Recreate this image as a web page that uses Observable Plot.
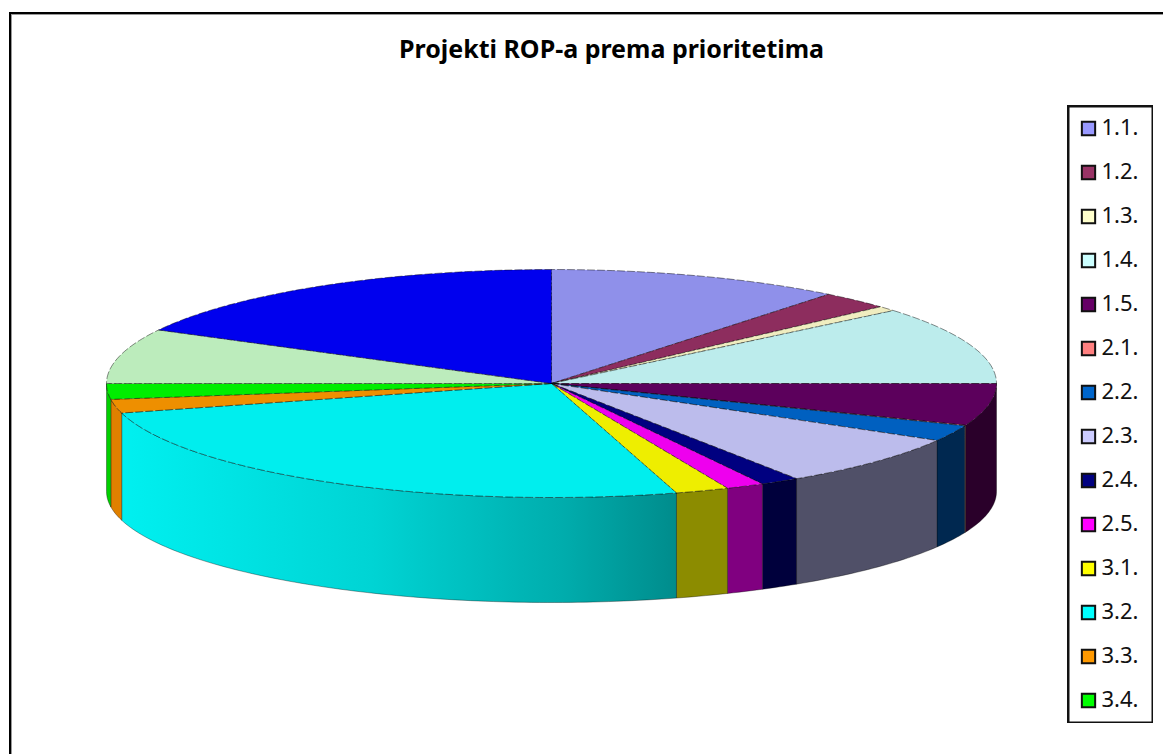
<!DOCTYPE html>
<html><head><meta charset="utf-8">
<script src="https://cdn.jsdelivr.net/npm/d3@7"></script>
<script src="https://cdn.jsdelivr.net/npm/@observablehq/plot@0.6"></script>
<style>
html,body{margin:0;padding:0;background:#fff;width:1163px;height:754px;overflow:hidden}
#root{position:relative;width:1163px;height:754px}
#border{position:absolute;left:9px;top:12px;right:0;bottom:0;border-left:2px solid #000;border-top:2px solid #000;box-shadow:inset 1px 1px 0 #999}
#pie,#legend{position:absolute}
#pie{left:0;top:0}
#legend{left:1067px;top:105px}
svg{display:block;background:none !important}
</style></head><body><div id="root"><div id="border"></div><div id="pie"></div><div id="legend"></div></div>
<script>
const title = "Projekti ROP-a prema prioritetima";
const legendLabels = ["1.1.","1.2.","1.3.","1.4.","1.5.","2.1.","2.2.","2.3.","2.4.","2.5.","3.1.","3.2.","3.3.","3.4."];
const legendColors = ["#9999ff","#993366","#ffffcc","#ccffff","#660066","#ff8080","#0066cc","#ccccff","#000080","#ff00ff","#ffff00","#00ffff","#ff9900","#00ff00"];
// Slices clockwise from 12 o'clock; the last two have no legend entry in the reference.
const shares = [10.7,2.55,0.7,11.05,5.97,0.08,2.28,7.39,1.42,1.39,1.94,25.36,1.95,2.22,7.78,17.22];
const topColors = ["#8f90ea","#8d2d5e","#f0edc0","#bcecec","#5c005c","#ee7878","#0060c0","#bcbcec","#000080","#ee00ee","#eeee00","#00eeee","#ee8f00","#00ee00","#bcecbc","#0000ee"];
const wallColors = ["#4a4a80","#4a1a33","#808066","#668080","#2a002a","#7a3f3f","#002850","#505068","#00003c","#800080","#8c8c00","url(#wall32)","#e08000","#00d000","#668066","#000080"];

const total = d3.sum(shares);
const ends = d3.cumsum(shares).map(v => v / total * 2 * Math.PI);
const slices = shares.map((v, i) => ({a0: i ? ends[i - 1] : 0, a1: ends[i], top: topColors[i], wall: wallColors[i]}));

const DROP = 108 / 114, RY_BOTTOM = 111 / 114;
function arc(a0, a1) {
  const n = Math.max(2, Math.ceil((a1 - a0) / (Math.PI / 180)));
  return d3.range(n + 1).map(k => a0 + (a1 - a0) * k / n);
}
const onTop = a => ({x: Math.sin(a), y: Math.cos(a)});
const onBottom = a => ({x: Math.sin(a), y: -DROP + RY_BOTTOM * Math.cos(a)});
const topPath = s => [{x: 0, y: 0}, ...arc(s.a0, s.a1).map(onTop), {x: 0, y: 0}];
function wallPath(s) {
  const a0 = Math.max(s.a0, Math.PI / 2), a1 = Math.min(s.a1, 1.5 * Math.PI);
  if (a1 <= a0) return null;
  const up = arc(a0, a1).map(onTop), down = arc(a0, a1).reverse().map(onBottom);
  return [...up, ...down, up[0]];
}
const gradient = () => {
  const d = d3.create("svg:defs");
  const g = d.append("linearGradient").attr("id", "wall32");
  [[0, "#00f0f0"], [0.45, "#00d4d4"], [0.8, "#00acac"], [1, "#008c8c"]].forEach(([o, c]) =>
    g.append("stop").attr("offset", o).attr("stop-color", c));
  return d.node();
};
const walls = slices.map(s => [s, wallPath(s)]).filter(d => d[1]).map(([s, p]) =>
  Plot.line(p, {x: "x", y: "y", fill: s.wall, stroke: "#000", strokeOpacity: 0.35, strokeWidth: 1}));
const tops = slices.map(s =>
  Plot.line(topPath(s), {x: "x", y: "y", fill: s.top, stroke: "#000", strokeOpacity: 0.45, strokeWidth: 1, strokeDasharray: "7 3"}));

document.getElementById("pie").append(Plot.plot({
  width: 1163, height: 754, margin: 0,
  x: {domain: [-1, 1], range: [106, 996], axis: null},
  y: {domain: [1, -1], range: [269, 497], axis: null},
  marks: [
    gradient,
    ...walls,
    ...tops,
    Plot.text([title], {frameAnchor: "top", text: d => d, dy: 40, dx: 29.5, fontSize: 25, fontWeight: "bold",
      fontFamily: "'Noto Sans'", fill: "#000"})
  ]
}));

const rows = legendLabels.map((label, i) => ({label, color: legendColors[i]}));
document.getElementById("legend").append(Plot.plot({
  width: 86, height: 618, margin: 0,
  x: {axis: null},
  y: {type: "point", domain: legendLabels, range: [20.5, 597], padding: 0, axis: null},
  marks: [
    Plot.frame({stroke: "#111", strokeWidth: 4}),
    Plot.dot(rows, {y: "label", frameAnchor: "left", dx: 21, symbol: "square", r: 7.5, fill: "color", stroke: "#111", strokeWidth: 2}),
    Plot.text(rows, {y: "label", text: "label", frameAnchor: "left", dx: 34, dy: -1, fontSize: 22, fontFamily: "'Noto Sans'", fill: "#111", textAnchor: "start"})
  ]
}));
</script></body></html>
